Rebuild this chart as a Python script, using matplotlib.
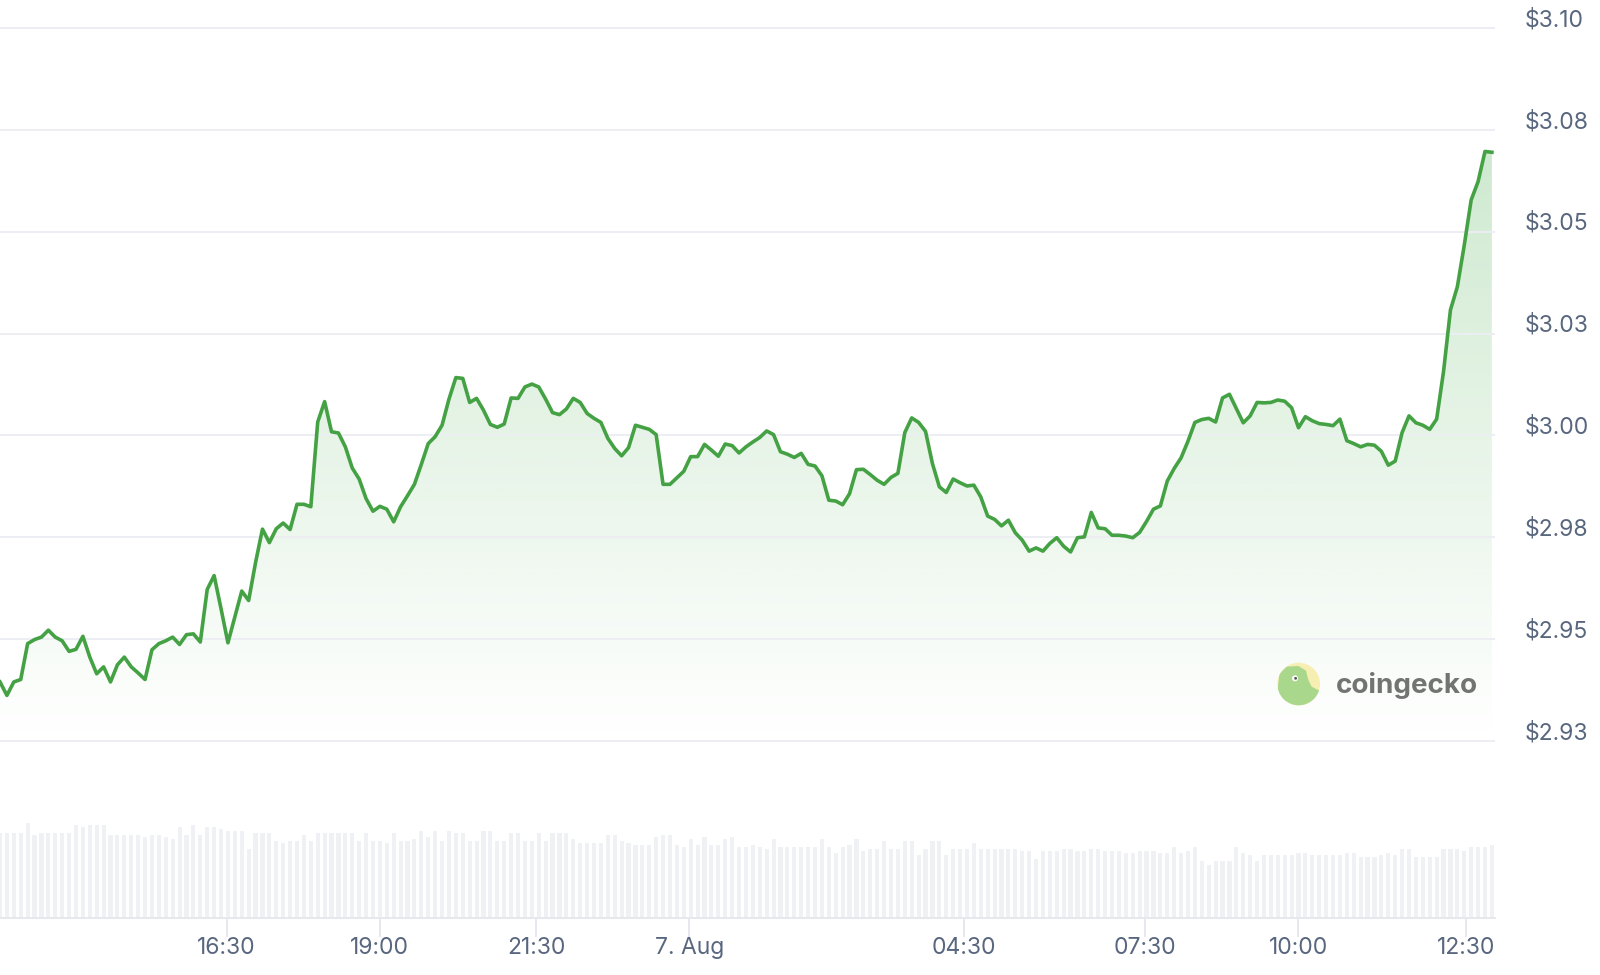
import numpy as np
import matplotlib.pyplot as plt
from matplotlib import transforms as mtransforms
from matplotlib.patches import Circle, Polygon

# ---------------------------
# data
# ---------------------------
price = [
    2.9395, 2.9362, 2.9395, 2.9401, 2.9489, 2.9499, 2.9505, 2.9522, 2.9505, 2.9496,
    2.9470, 2.9475, 2.9507, 2.9456, 2.9415, 2.9432, 2.9395, 2.9437, 2.9456, 2.9432,
    2.9417, 2.9401, 2.9474, 2.9489, 2.9496, 2.9505, 2.9487, 2.9511, 2.9513, 2.9493,
    2.9622, 2.9656, 2.9575, 2.9491, 2.9554, 2.9618, 2.9595, 2.9688, 2.9770, 2.9737,
    2.9771, 2.9785, 2.9769, 2.9831, 2.9831, 2.9825, 3.0033, 3.0083, 3.0009, 3.0006,
    2.9972, 2.9920, 2.9893, 2.9845, 2.9814, 2.9826, 2.9819, 2.9788, 2.9825, 2.9852,
    2.9880, 2.9929, 2.9980, 2.9997, 3.0025, 3.0089, 3.0142, 3.0140, 3.0081, 3.0091,
    3.0062, 3.0027, 3.0020,
    3.0028, 3.0092, 3.0091, 3.0119, 3.0126, 3.0119, 3.0089, 3.0056, 3.0051, 3.0065,
    3.0091, 3.0081, 3.0054, 3.0042, 3.0032, 2.9993, 2.9968, 2.9950, 2.9970, 3.0025,
    3.0020, 3.0015, 3.0002, 2.9880, 2.9880, 2.9896, 2.9912, 2.9948, 2.9948, 2.9978,
    2.9964, 2.9949, 2.9979, 2.9975, 2.9957, 2.9972, 2.9984, 2.9995, 3.0011, 3.0002,
    2.9960, 2.9954, 2.9946, 2.9956, 2.9929, 2.9925, 2.9901, 2.9841, 2.9839, 2.9830,
    2.9857, 2.9916, 2.9917, 2.9904, 2.9890, 2.9880, 2.9897, 2.9907,
    3.0007, 3.0043, 3.0032, 3.0010, 2.9931, 2.9874, 2.9860, 2.9893, 2.9884, 2.9876,
    2.9878, 2.9849, 2.9802, 2.9794, 2.9778, 2.9792, 2.9761, 2.9743, 2.9716, 2.9724,
    2.9716, 2.9735, 2.9749, 2.9728, 2.9714, 2.9749, 2.9751, 2.9811, 2.9773, 2.9771,
    2.9755, 2.9755, 2.9753, 2.9749, 2.9762, 2.9789, 2.9819, 2.9827, 2.9888, 2.9919,
    2.9945, 2.9986, 3.0032, 3.0039, 3.0042, 3.0033, 3.0092, 3.0101, 3.0066, 3.0031,
    3.0048, 3.0081, 3.0080, 3.0081, 3.0087, 3.0084, 3.0068, 3.0019, 3.0046, 3.0036,
    3.0029, 3.0027, 3.0024, 3.0040, 2.9987, 2.9980, 2.9972, 2.9978, 2.9976, 2.9961,
    2.9927, 2.9937, 3.0007, 3.0048, 3.0031, 3.0025, 3.0015, 3.0040,
    3.0157, 3.0308, 3.0365, 3.0467, 3.0578, 3.0623, 3.0697, 3.0695,
]

# traded volume per point (relative units)
volume = [
    85, 85, 85, 85, 95, 83, 85, 85, 85, 85,
    85, 93, 91, 93, 93, 93, 83, 83, 83, 83,
    83, 81, 83, 83, 81, 79, 91, 83, 93, 83,
    91, 91, 89, 87, 87, 87, 69, 85, 85, 85,
    77, 75, 77, 77, 83, 77, 85, 85, 85, 85,
    85, 85, 77, 85, 77, 77, 75, 85, 77, 77,
    79, 87, 81, 87, 77, 87, 85, 85, 77, 77,
    87, 87, 77,
    77, 85, 85, 77, 77, 85, 77, 85, 85, 85,
    79, 75, 75, 75, 75, 83, 83, 77, 75, 73,
    73, 73, 81, 83, 83, 73, 71, 79, 73, 81,
    73, 73, 79, 81, 71, 71, 73, 71, 69, 79,
    71, 71, 71, 71, 71, 71, 79, 71, 65, 71,
    73, 79, 67, 69, 69, 77, 69, 69, 77, 77,
    63, 69, 77, 77, 63, 69, 69, 69, 75, 69,
    69, 69, 69, 69, 69, 67, 67, 59, 67,
    67, 67, 69, 69, 67, 67, 69, 69, 67, 67,
    67, 65, 65, 67, 67, 67, 65, 65, 71, 65,
    67, 71, 57, 53, 57, 57, 57, 71, 65, 63,
    57, 63, 63, 63, 63, 63, 65, 65, 63, 63,
    63, 63, 63, 65, 65, 61, 61, 61, 63, 65,
    63, 69, 69, 61, 61, 61, 61, 69, 69, 69,
    67, 71, 71, 71, 73,
]

# ordinal x axis: tick positions are point indices
x_tick_pos = [32.8, 55.0, 77.6, 99.8, 139.6, 165.8, 188.0, 212.2]
x_tick_labels = ["16:30", "19:00", "21:30", "7. Aug", "04:30", "07:30", "10:00", "12:30"]

y_ticks = [2.925, 2.95, 2.975, 3.0, 3.025, 3.05, 3.075, 3.10]
y_tick_labels = ["$2.93", "$2.95", "$2.98", "$3.00", "$3.03", "$3.05", "$3.08", "$3.10"]

# ---------------------------
# style
# ---------------------------
plt.rcParams["font.family"] = ["Inter", "DejaVu Sans"]
LINE = "#44a244"
GREEN_RGB = (76 / 255, 175 / 255, 80 / 255)
GRID = "#eceef3"
TEXT = "#58667e"
AXIS = "#e6e8ee"
BAR = "#eff1f5"
FS = 16.5

W, H = 1600, 975
fig = plt.figure(figsize=(W / 100, H / 100), dpi=100)
fig.patch.set_facecolor("white")

x = np.arange(len(price))
x_max = 216.45

# price panel
ax = fig.add_axes([0, (H - 760) / H, 1495 / W, 760 / H])
# volume panel
axv = fig.add_axes([0, (H - 918) / H, 1495 / W, 100 / H])

floor = 2.925
poly = ax.fill_between(x, price, floor, facecolor="none", edgecolor="none")
grad = np.linspace(0, 1, 256)[:, None]
rgba = np.zeros((256, 1, 4))
rgba[..., 0], rgba[..., 1], rgba[..., 2] = GREEN_RGB
rgba[..., 3] = 0.34 * grad
img = ax.imshow(rgba, extent=[0, x[-1], floor, 3.107], origin="lower",
                aspect="auto", interpolation="bilinear", zorder=1)
img.set_clip_path(poly.get_paths()[0], transform=ax.transData)

ax.plot(x, price, color=LINE, lw=2.6, solid_joinstyle="round", zorder=3)

ax.set_xlim(0, x_max)
ax.set_ylim(2.92034, 3.106873)
ax.set_yticks(y_ticks)
ax.set_yticklabels([])
ax.tick_params(axis="y", length=0)
ax.set_xticks([])
ax.grid(True, axis="y", color=GRID, lw=1.4, zorder=0)
for s in ax.spines.values():
    s.set_visible(False)
ax.patch.set_alpha(0)

# y labels: right of the plot, slightly above each grid line
lab_tr = mtransforms.offset_copy(ax.get_yaxis_transform(), fig=fig, x=30, y=8, units="dots")
for v, t in zip(y_ticks, y_tick_labels):
    ax.text(1.0, v, t, transform=lab_tr, ha="left", va="center",
            fontsize=FS, color=TEXT, clip_on=False)

# volume bars
axv.bar(x, volume, width=0.6, color=BAR, zorder=1)
axv.set_xlim(0, x_max)
axv.set_ylim(0, 100)
axv.set_yticks([])
axv.set_xticks(x_tick_pos)
axv.set_xticklabels(x_tick_labels)
axv.tick_params(axis="x", length=13.5, width=1.4, color=AXIS, pad=0.5,
                labelsize=FS, labelcolor=TEXT)
for k, s in axv.spines.items():
    s.set_visible(k == "bottom")
axv.spines["bottom"].set_color(AXIS)
axv.spines["bottom"].set_linewidth(1.4)
axv.patch.set_alpha(0)

# coingecko watermark
def px(xp, yp):
    return xp / 100, (H - yp) / 100

cx, cy = px(1298.7, 684)
badge = Circle((cx, cy), 0.213, transform=fig.dpi_scale_trans,
               facecolor="#f7eeb2", edgecolor="none", zorder=5)
fig.add_artist(badge)
head_pts = [(58, 72), (80, 50), (115, 48), (138, 62), (145, 90), (155, 110),
            (178, 122), (185, 170), (48, 170)]
head = Polygon([px(1260 + a / 3, 650 + b / 3) for a, b in head_pts], closed=True,
               transform=fig.dpi_scale_trans, facecolor="#a9d78b",
               edgecolor="none", zorder=6)
fig.add_artist(head)
head.set_clip_path(badge)
ex, ey = px(1260 + 105 / 3, 650 + 85 / 3)
fig.add_artist(Circle((ex, ey), 0.03, transform=fig.dpi_scale_trans,
                      facecolor="white", edgecolor="none", zorder=7))
fig.add_artist(Circle((ex + 0.006, ey), 0.014, transform=fig.dpi_scale_trans,
                      facecolor="#555555", edgecolor="none", zorder=8))
fig.text(1336 / W, (H - 693) / H, "coingecko", fontsize=20, fontweight="bold",
         color="#737373", ha="left", va="baseline")

fig.savefig("out.png", dpi=100, facecolor="white")
